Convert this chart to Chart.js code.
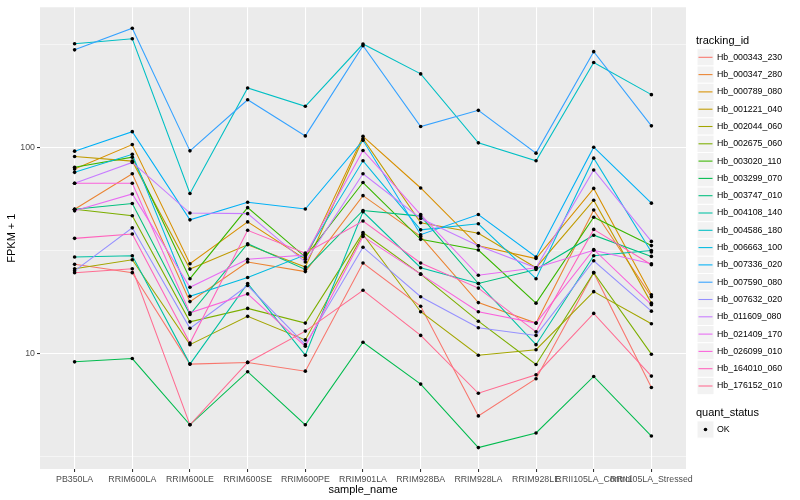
<!DOCTYPE html>
<html>
<head>
<meta charset="utf-8">
<script src="https://cdn.jsdelivr.net/npm/chart.js@4.4.1/dist/chart.umd.min.js"></script>
<style>
  body { margin: 0; background: #fff; }
  canvas { display: block; }
</style>
</head>
<body>
<canvas id="fpkmChart" width="800" height="500"></canvas>
<script>
// samples on the x axis
const samples = ['PB350LA', 'RRIM600LA', 'RRIM600LE', 'RRIM600SE', 'RRIM600PE', 'RRIM901LA',
	'RRIM928BA', 'RRIM928LA', 'RRIM928LE', 'RRII105LA_Control', 'RRII105LA_Stressed'];

const trackingIds = ['Hb_000343_230', 'Hb_000347_280', 'Hb_000789_080', 'Hb_001221_040', 'Hb_002044_060',
	'Hb_002675_060', 'Hb_003020_110', 'Hb_003299_070', 'Hb_003747_010', 'Hb_004108_140',
	'Hb_004586_180', 'Hb_006663_100', 'Hb_007336_020', 'Hb_007590_080', 'Hb_007632_020',
	'Hb_011609_080', 'Hb_021409_170', 'Hb_026099_010', 'Hb_164010_060', 'Hb_176152_010'];

// FPKM + 1, one value per sample
const hb_000343_230 = [27, 24.6, 8.85, 9.02, 8.18, 27.4, 16.9, 4.96, 7.52, 24.6, 6.82];
const hb_000347_280 = [50, 74.3, 17.8, 27.7, 24.9, 58.2, 36.9, 17.6, 14.0, 49.6, 18.8];
const hb_000789_080 = [78.3, 103, 27.2, 43.4, 28.6, 113, 63.4, 33.2, 28.8, 63.1, 19.2];
const hb_001221_040 = [90.2, 85.6, 25.6, 33.6, 26.2, 110, 43, 38.2, 26, 55.3, 17.5];
const hb_002044_060 = [25.7, 28.4, 11.0, 15.1, 11.6, 37.7, 15.9, 9.78, 10.4, 19.9, 13.9];
const hb_002675_060 = [50, 46.5, 14.2, 16.5, 14.0, 38.5, 24.2, 14.3, 8.81, 24.6, 9.89];
const hb_003020_110 = [80, 89.5, 23, 50.9, 29.3, 67.4, 35.7, 31.7, 17.5, 45.7, 33.3];
const hb_003299_070 = [9.08, 9.42, 4.49, 8.13, 4.49, 11.3, 7.08, 3.48, 4.10, 7.71, 3.96];
const hb_003747_010 = [50, 53.3, 15.4, 34.0, 25.5, 49.3, 46.3, 21.8, 25.5, 37.4, 29.5];
const hb_004108_140 = [29.3, 29.7, 8.85, 21.8, 9.78, 48.6, 26.0, 21.8, 11.0, 29.7, 31.5];
const hb_004586_180 = [318, 336, 59.6, 194, 158, 317, 227, 105, 85.9, 258, 180];
const hb_006663_100 = [75.5, 92.4, 18.9, 23.3, 30, 85.9, 39.7, 42.5, 23, 88.5, 31];
const hb_007336_020 = [95.7, 119, 44.4, 54.1, 50.1, 108, 37.6, 47.1, 29.3, 100, 53.5];
const hb_007590_080 = [297, 378, 96, 170, 113.5, 311, 126, 151, 93.6, 291, 127];
const hb_007632_020 = [25.1, 40.6, 13.2, 21.3, 11.0, 32.7, 18.8, 13.3, 12.2, 28.1, 16.0];
const hb_011609_080 = [66.8, 84.4, 47.9, 47.6, 27.7, 74.3, 45.1, 33.2, 26, 77.5, 34.9];
const hb_021409_170 = [49.1, 59.3, 20.9, 28.6, 30, 96.4, 47.1, 23.9, 26, 31.6, 27.2];
const hb_026099_010 = [66.8, 66.8, 15.7, 19.4, 10.8, 36.9, 24.2, 15.9, 14.0, 31.9, 17.2];
const hb_164010_060 = [36.1, 37.9, 11.2, 39.5, 30.6, 43.8, 27.4, 20.7, 12.7, 39.9, 26.9];
const hb_176152_010 = [24.6, 25.7, 4.49, 9.02, 12.8, 20.2, 12.2, 6.39, 7.86, 15.6, 7.74];

const seriesValues = [hb_000343_230, hb_000347_280, hb_000789_080, hb_001221_040, hb_002044_060,
	hb_002675_060, hb_003020_110, hb_003299_070, hb_003747_010, hb_004108_140,
	hb_004586_180, hb_006663_100, hb_007336_020, hb_007590_080, hb_007632_020,
	hb_011609_080, hb_021409_170, hb_026099_010, hb_164010_060, hb_176152_010];

const yMajor = [10, 100];
const yMinor = [3.1623, 31.623, 316.23];

// ggplot default hue palette, 20 levels
const colors = ['#F8766D', '#EA8331', '#D89000', '#C09B00', '#A3A500', '#7CAE00', '#39B600', '#00BB4E',
	'#00BF7D', '#00C1A3', '#00BFC4', '#00BAE0', '#00B0F6', '#35A2FF', '#9590FF', '#C77CFF',
	'#E76BF3', '#FA62DB', '#FF62BC', '#FF6C91'];

const FONT = '"Liberation Sans", Arial, sans-serif';

const panelBackground = {
	id: 'panelBackground',
	beforeDraw(chart) {
		const {ctx, chartArea: a} = chart;
		ctx.save();
		ctx.fillStyle = '#EBEBEB';
		ctx.fillRect(a.left, a.top, a.right - a.left, a.bottom - a.top);
		ctx.restore();
	}
};

// black points drawn above all the lines, like geom_point after geom_line
const pointsOnTop = {
	id: 'pointsOnTop',
	afterDatasetsDraw(chart) {
		const ctx = chart.ctx;
		ctx.save();
		ctx.fillStyle = '#000';
		chart.getSortedVisibleDatasetMetas().forEach(meta => {
			meta.data.forEach(pt => {
				ctx.beginPath();
				ctx.arc(pt.x, pt.y, 1.8, 0, Math.PI * 2);
				ctx.fill();
			});
		});
		ctx.restore();
	}
};

const ggLegend = {
	id: 'ggLegend',
	afterDraw(chart) {
		const ctx = chart.ctx;
		const x0 = 696, keyW = 17, keyH = 17.3;
		ctx.save();
		ctx.textBaseline = 'middle';
		ctx.textAlign = 'left';
		ctx.fillStyle = '#000';
		ctx.font = '11px ' + FONT;
		ctx.fillText('tracking_id', x0, 41);

		ctx.font = '8.8px ' + FONT;
		trackingIds.forEach((id, i) => {
			const y = 57.3 + i * keyH;
			ctx.fillStyle = '#F2F2F2';
			ctx.strokeStyle = '#fff';
			ctx.lineWidth = 1;
			ctx.fillRect(x0 + 1, y - keyH / 2, keyW, keyH);
			ctx.strokeRect(x0 + 1, y - keyH / 2, keyW, keyH);
			ctx.strokeStyle = colors[i];
			ctx.lineWidth = 1.07;
			ctx.beginPath();
			ctx.moveTo(x0 + 2.5, y);
			ctx.lineTo(x0 + keyW - 0.5, y);
			ctx.stroke();
			ctx.fillStyle = '#000';
			ctx.fillText(id, x0 + 21, y);
		});

		ctx.font = '11px ' + FONT;
		ctx.fillText('quant_status', x0, 413);
		const yOk = 429.5;
		ctx.fillStyle = '#F2F2F2';
		ctx.strokeStyle = '#fff';
		ctx.fillRect(x0 + 1, yOk - keyH / 2, keyW, keyH);
		ctx.strokeRect(x0 + 1, yOk - keyH / 2, keyW, keyH);
		ctx.fillStyle = '#000';
		ctx.beginPath();
		ctx.arc(x0 + 1 + keyW / 2, yOk, 1.8, 0, Math.PI * 2);
		ctx.fill();
		ctx.font = '8.8px ' + FONT;
		ctx.fillText('OK', x0 + 21, yOk);
		ctx.restore();
	}
};

const isMajor = v => yMajor.some(m => Math.abs(m - v) < 1e-6);

const drawFpkmChart = () => {
	const datasets = seriesValues.map((vals, i) => ({
		label: trackingIds[i],
		data: vals.map((v, j) => ({x: j, y: v})),
		borderColor: colors[i],
		borderWidth: 1.07,
		pointRadius: 0,
		pointHoverRadius: 0,
		tension: 0,
		order: -i
	}));

	new Chart(document.getElementById('fpkmChart'), {
		type: 'line',
		data: {datasets: datasets},
		plugins: [panelBackground, pointsOnTop, ggLegend],
		options: {
			responsive: false,
			animation: false,
			events: [],
			layout: {padding: {left: 0, right: 114, top: 5, bottom: 0}},
			plugins: {
				legend: {display: false},
				tooltip: {enabled: false}
			},
			scales: {
				x: {
					type: 'linear',
					min: -0.6,
					max: 10.6,
					afterBuildTicks: scale => {
						scale.ticks = samples.map((s, i) => ({value: i}));
					},
					afterFit: scale => { scale.height = 31; },
					border: {display: false},
					grid: {
						color: '#FFFFFF',
						lineWidth: 1.07,
						tickColor: '#333333',
						tickLength: 3,
						tickWidth: 1.07
					},
					ticks: {
						autoSkip: false,
						maxRotation: 0,
						minRotation: 0,
						padding: 2,
						color: '#4D4D4D',
						font: {family: FONT, size: 8.8},
						callback: v => samples[v]
					},
					title: {
						display: true,
						text: 'sample_name',
						color: '#000',
						font: {family: FONT, size: 11},
						padding: {top: 0, bottom: 3}
					}
				},
				y: {
					type: 'logarithmic',
					min: 2.74,
					max: 478,
					afterBuildTicks: scale => {
						scale.ticks = yMinor.concat(yMajor).sort((a, b) => a - b).map(v => ({value: v}));
					},
					afterFit: scale => { scale.width = 40; },
					border: {display: false},
					grid: {
						color: '#FFFFFF',
						lineWidth: c => (c.tick && isMajor(c.tick.value)) ? 1.07 : 0.53,
						tickColor: c => (c.tick && isMajor(c.tick.value)) ? '#333333' : 'rgba(0,0,0,0)',
						tickLength: 3,
						tickWidth: 1.07
					},
					ticks: {
						autoSkip: false,
						padding: 2,
						color: '#4D4D4D',
						font: {family: FONT, size: 8.8},
						callback: v => isMajor(v) ? String(Math.round(v)) : ''
					},
					title: {
						display: true,
						text: 'FPKM + 1',
						color: '#000',
						font: {family: FONT, size: 11},
						padding: {top: 5, bottom: 0}
					}
				}
			}
		}
	});
};

drawFpkmChart();
</script>
</body>
</html>
